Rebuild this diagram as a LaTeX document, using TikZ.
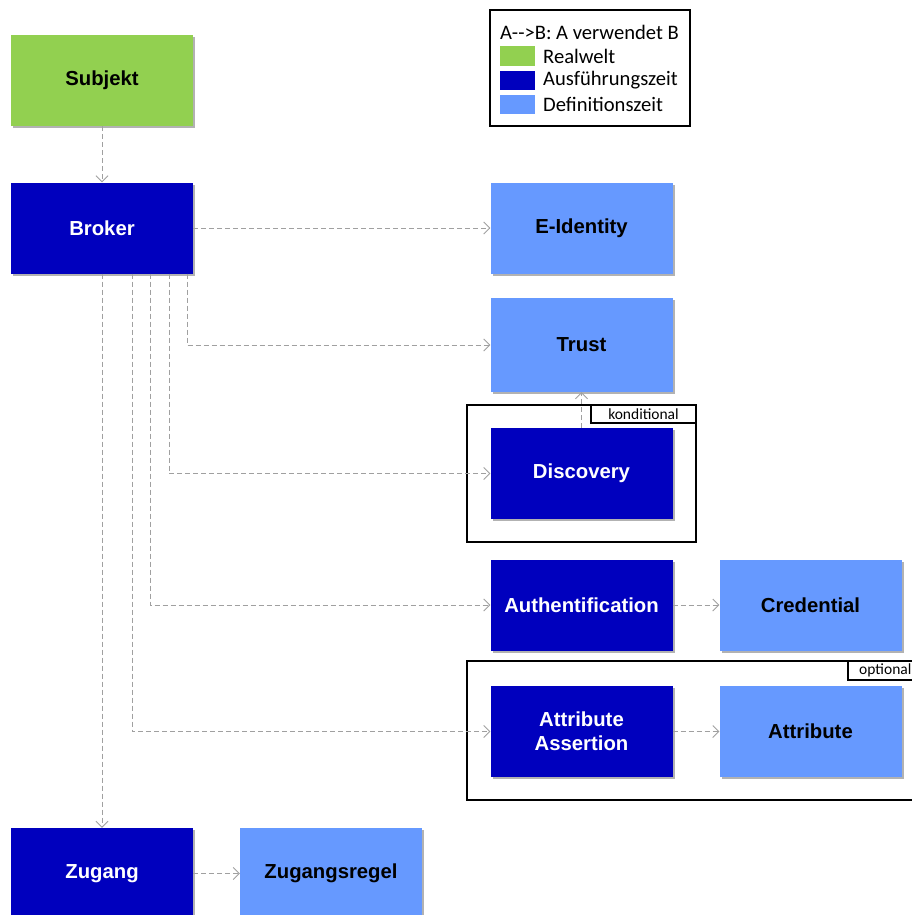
\documentclass[tikz,border=0pt]{standalone}
\usepackage{fontspec}
\usetikzlibrary{arrows.meta,shadows}
\newfontfamily\boxfont{Liberation Sans}
\newfontfamily\legfont{Carlito}
\definecolor{realwelt}{RGB}{146,208,80}
\definecolor{ausfzeit}{RGB}{0,0,190}
\definecolor{defzeit}{RGB}{102,153,255}
\definecolor{linkgray}{RGB}{160,160,160}
\tikzset{
  block/.style={rectangle, inner sep=0pt, minimum width=182pt, minimum height=91pt,
    align=center, font=\boxfont\bfseries\fontsize{20.3}{24}\selectfont,
    general shadow={fill=gray!60, shadow xshift=2pt, shadow yshift=-2pt}},
  realbox/.style={block, fill=realwelt, text=black},
  runbox/.style={block, fill=ausfzeit, text=white},
  defbox/.style={block, fill=defzeit, text=black},
  uses/.style={draw=linkgray, line width=0.9pt, dash pattern=on 5pt off 3pt,
    -{Straight Barb[length=6pt,width=12pt,line width=0.8pt]}},
  frame/.style={draw=black, line width=1.4pt},
  tag/.style={font=\legfont\fontsize{15.5}{17}\selectfont, inner sep=0pt},
  legtext/.style={font=\legfont\fontsize{20.6}{23}\selectfont, anchor=west, inner sep=0pt},
}
\begin{document}
\begin{tikzpicture}[x=1pt, y=-1pt]
\useasboundingbox (0,0) rectangle (912,915);

% legend
\draw[frame] (490,10) rectangle (690,126);
\node[legtext] (legtitle) at (500,32) {A-->B: A verwendet B};
\fill[realwelt] (500,46) rectangle (535,66);
\fill[ausfzeit] (500,71) rectangle (535,90);
\fill[defzeit] (500,95) rectangle (535,114);
\node[legtext] (legreal) at (543,56) {Realwelt};
\node[legtext] (legrun) at (543,80) {Ausführungszeit};
\node[legtext] (legdef) at (543,104) {Definitionszeit};

% grouping frames
\draw[frame] (467,405) rectangle (696,542);
\draw[frame] (591,405) rectangle (696,423);
\node[tag] (kond) at (643.5,414) {konditional};
\draw[frame] (467,661) rectangle (915,800);
\draw[frame] (848,661) rectangle (915,680);
\node[tag, anchor=west] (opt) at (859,670.5) {optional};

% blocks
\node[realbox] (subjekt) at (102,80.5) {Subjekt};
\node[runbox] (broker) at (102,228) {Broker};
\node[defbox] (eid) at (581.5,228) {E-Identity};
\node[defbox, minimum height=94pt] (trust) at (581.5,345) {Trust};
\node[runbox] (disc) at (581.5,473.5) {Discovery};
\node[runbox] (authn) at (581.5,605) {Authentification};
\node[defbox] (cred) at (810.5,605) {Credential};
\node[runbox] (assert) at (581.5,731.5) {Attribute\\[0pt]Assertion};
\node[defbox] (attr) at (810.5,731.5) {Attribute};
\node[runbox] (zugang) at (102,873.5) {Zugang};
\node[defbox] (regel) at (331,873.5) {Zugangsregel};

% uses relations
\draw[uses] (subjekt) -- (broker);
\draw[uses] (broker) -- (eid);
\draw[uses] ([xshift=85pt]broker.south) |- (trust);
\draw[uses] ([xshift=67pt]broker.south) |- (disc);
\draw[uses] ([xshift=48pt]broker.south) |- (authn);
\draw[uses] ([xshift=30pt]broker.south) |- (assert);
\draw[uses] (broker) -- (zugang);
\draw[uses] (disc) -- (trust);
\draw[uses] (authn) -- (cred);
\draw[uses] (assert) -- (attr);
\draw[uses] (zugang) -- (regel);
\end{tikzpicture}
\end{document}
